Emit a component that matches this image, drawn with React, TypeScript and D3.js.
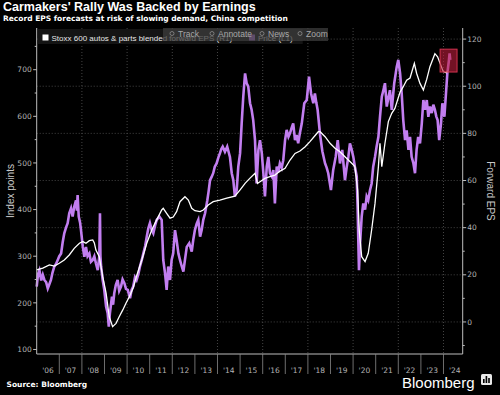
import React, { useEffect, useRef } from 'react';
import * as d3 from 'd3';

// Price (L1), index points, time in decimal years
const priceT = [
  2006.0, 2006.06, 2006.12, 2006.2, 2006.27, 2006.34, 2006.42, 2006.49, 2006.56, 2006.63, 2006.7, 2006.78, 2006.86, 2006.93,
  2007.0, 2007.08, 2007.15, 2007.22, 2007.3, 2007.37, 2007.44, 2007.52, 2007.59, 2007.66, 2007.74, 2007.78, 2007.81, 2007.86,
  2007.92, 2007.96, 2008.04, 2008.11, 2008.18, 2008.25, 2008.33, 2008.4, 2008.48, 2008.55, 2008.62, 2008.7, 2008.77, 2008.8,
  2008.82, 2008.85, 2008.92, 2008.99, 2009.07, 2009.14, 2009.19, 2009.24, 2009.33, 2009.38, 2009.43, 2009.5, 2009.58, 2009.65,
  2009.73, 2009.8, 2009.88, 2009.95, 2010.03, 2010.13, 2010.2, 2010.27, 2010.35, 2010.42, 2010.5, 2010.57, 2010.65, 2010.72,
  2010.8, 2010.87, 2010.94, 2011.01, 2011.09, 2011.16, 2011.24, 2011.31, 2011.43, 2011.53, 2011.6, 2011.68, 2011.75, 2011.82,
  2011.9, 2011.97, 2012.04, 2012.12, 2012.19, 2012.27, 2012.34, 2012.42, 2012.49, 2012.56, 2012.64, 2012.75, 2012.86, 2012.93,
  2013.0, 2013.08, 2013.15, 2013.23, 2013.3, 2013.37, 2013.45, 2013.55, 2013.61, 2013.67, 2013.74, 2013.81, 2013.88, 2013.96,
  2014.04, 2014.11, 2014.17, 2014.23, 2014.33, 2014.43, 2014.55, 2014.63, 2014.7, 2014.77, 2014.85, 2014.92, 2015.0, 2015.07,
  2015.14, 2015.22, 2015.29, 2015.36, 2015.44, 2015.51, 2015.58, 2015.66, 2015.73, 2015.81, 2015.88, 2015.96, 2016.03, 2016.1,
  2016.18, 2016.25, 2016.32, 2016.4, 2016.47, 2016.54, 2016.62, 2016.69, 2016.76, 2016.84, 2016.91, 2016.99, 2017.06, 2017.14,
  2017.21, 2017.28, 2017.35, 2017.43, 2017.5, 2017.57, 2017.65, 2017.73, 2017.84, 2017.95, 2018.05, 2018.14, 2018.24, 2018.31,
  2018.37, 2018.43, 2018.54, 2018.64, 2018.76, 2018.83, 2018.9, 2019.02, 2019.12, 2019.23, 2019.32, 2019.42, 2019.52, 2019.64,
  2019.72, 2019.79, 2019.86, 2019.94, 2020.01, 2020.08, 2020.16, 2020.2, 2020.23, 2020.26, 2020.31, 2020.38, 2020.45, 2020.53,
  2020.6, 2020.67, 2020.75, 2020.82, 2020.89, 2020.97, 2021.04, 2021.12, 2021.19, 2021.27, 2021.34, 2021.41, 2021.49, 2021.56,
  2021.63, 2021.71, 2021.82, 2021.93, 2022.0, 2022.08, 2022.15, 2022.22, 2022.3, 2022.37, 2022.45, 2022.52, 2022.59, 2022.67,
  2022.74, 2022.81, 2022.88, 2022.96, 2023.04, 2023.11, 2023.18, 2023.26, 2023.33, 2023.4, 2023.48, 2023.55, 2023.62, 2023.68,
  2023.74, 2023.81, 2023.89, 2023.95, 2024.04, 2024.11, 2024.17, 2024.24, 2024.27, 2024.3,
];
const priceV = [
  235, 262, 270, 248, 260, 249, 244, 231, 240, 249, 265, 278, 284, 292,
  300, 306, 330, 349, 362, 371, 392, 403, 385, 406, 420, 398, 431, 385,
  372, 356, 320, 299, 320, 300, 306, 288, 292, 300, 285, 270, 299, 392,
  300, 278, 249, 228, 192, 178, 149, 178, 213, 196, 220, 238, 249, 226,
  235, 250, 242, 230, 228, 210, 228, 235, 255, 249, 262, 278, 292, 306,
  322, 342, 360, 371, 356, 349, 366, 378, 385, 378, 292, 263, 228, 278,
  249, 292, 306, 356, 335, 306, 292, 278, 267, 292, 320, 328, 310, 336,
  356, 370, 378, 342, 356, 378, 392, 420, 440, 463, 470, 478, 492, 499,
  512, 521, 530, 535, 524, 535, 513, 478, 463, 428, 442, 492, 521, 585,
  642, 692, 671, 664, 628, 614, 592, 549, 456, 528, 549, 521, 478, 428,
  492, 513, 478, 471, 485, 413, 492, 480, 499, 490, 506, 549, 571, 556,
  564, 575, 585, 549, 560, 542, 565, 585, 628, 635, 685, 649, 628, 649,
  630, 614, 560, 525, 499, 490, 478, 442, 485, 513, 549, 499, 528, 463,
  492, 513, 542, 528, 513, 492, 471, 406, 335, 270, 328, 385, 413, 400,
  428, 420, 442, 456, 492, 513, 535, 556, 599, 642, 656, 671, 621, 640,
  656, 614, 671, 706, 721, 692, 649, 592, 549, 570, 528, 556, 513, 499,
  478, 528, 556, 542, 585, 635, 614, 635, 599, 621, 607, 625, 614, 600,
  592, 549, 585, 628, 599, 649, 692, 720, 735, 721,
];

// Stoxx 600 autos & parts blended forward EPS (R1)
const epsT = [
  2006.0, 2006.27, 2006.56, 2006.78, 2007.0, 2007.22, 2007.44, 2007.66, 2007.89, 2008.04, 2008.18, 2008.33, 2008.48, 2008.55,
  2008.62, 2008.77, 2008.92, 2009.07, 2009.21, 2009.36, 2009.51, 2009.65, 2009.81, 2009.95, 2010.1, 2010.27, 2010.42, 2010.65,
  2010.87, 2011.09, 2011.31, 2011.53, 2011.6, 2011.75, 2011.9, 2012.04, 2012.19, 2012.34, 2012.56, 2012.71, 2012.86, 2013.0,
  2013.23, 2013.37, 2013.59, 2013.81, 2014.11, 2014.41, 2014.77, 2015.0, 2015.22, 2015.44, 2015.66, 2015.77, 2015.88, 2016.1,
  2016.32, 2016.54, 2016.77, 2016.99, 2017.21, 2017.43, 2017.65, 2017.88, 2018.09, 2018.31, 2018.46, 2018.54, 2018.76, 2018.98,
  2019.2, 2019.42, 2019.64, 2019.79, 2019.94, 2020.08, 2020.2, 2020.27, 2020.38, 2020.53, 2020.67, 2020.82, 2020.97, 2021.12,
  2021.19, 2021.27, 2021.41, 2021.56, 2021.71, 2021.85, 2022.08, 2022.22, 2022.37, 2022.52, 2022.71, 2022.81, 2022.96, 2023.11,
  2023.26, 2023.4, 2023.62, 2023.74, 2023.85, 2023.99, 2024.12, 2024.19,
];
const epsV = [
  22.1, 22.8, 24.2, 23.7, 24.9, 26.3, 28.4, 31.2, 33.4, 34.1, 33.4, 34.5, 34.8, 33.5,
  30.5, 27.7, 19.2, 12.2, 2.2, -2.0, -0.6, 2.2, 5.1, 7.9, 10.7, 14.5, 19.5, 26.3,
  33.4, 39.0, 43.3, 47.5, 48.2, 46.1, 44.0, 44.5, 46.8, 51.0, 53.1, 51.7, 48.2, 47.2,
  46.8, 47.5, 49.6, 51.0, 51.7, 52.5, 53.4, 56.0, 58.8, 61.0, 63.1, 58.8, 59.5, 60.9,
  61.6, 62.3, 64.0, 65.2, 68.7, 71.5, 72.5, 74.3, 76.5, 79.0, 80.7, 80.7, 78.6, 75.8,
  73.7, 72.2, 70.1, 68.7, 67.3, 65.9, 56.0, 39.0, 27.7, 25.6, 29.1, 39.0, 50.3, 65.9,
  75.8, 65.9, 75.8, 85.0, 88.5, 90.6, 97.5, 99.8, 102.6, 103.5, 109.7, 105.5, 101.2, 98.4,
  103.0, 108.3, 113.8, 112.5, 109.7, 106.2, 105.7, 106.5,
];

const yearLabels = ["'06", "'07", "'08", "'09", "'10", "'11", "'12", "'13", "'14", "'15", "'16", "'17", "'18", "'19", "'20", "'21", "'22", "'23", "'24"];
const leftTicks = [100, 200, 300, 400, 500, 600, 700];
const leftMinor = [150, 250, 350, 450, 550, 650, 750];
const rightTicks = [0, 20, 40, 60, 80, 100, 120];
const rightMinor = [-10, 10, 30, 50, 70, 90, 110];
const toolbarItems = ['Track', 'Annotate', 'News', 'Zoom'];
// highlighted box at the end of the series (time, price)
const highlightT = [2023.85, 2024.6];
const highlightP = [695, 744];

const App = () => {
  const svgRef = useRef(null);

  useEffect(() => {
    const svg = d3.select(svgRef.current);
    svg.selectAll('*').remove();

    const width = 500;
    const height = 395;
    const margin = { top: 28, right: 37.3, bottom: 41, left: 36.7 };
    const x0 = margin.left;
    const x1 = width - margin.right;
    const yTop = margin.top;
    const yBot = height - margin.bottom;

    svg.append('rect').attr('width', width).attr('height', height).attr('fill', '#000');

    const x = d3.scaleLinear().domain([2006, 2024.85]).range([x0, x1]);
    const yL = d3.scaleLinear().domain([90.3, 789.4]).range([yBot, yTop]);
    const yR = d3.scaleLinear().domain([-13.6, 124.7]).range([yBot, yTop]);

    const tickFont = 'DejaVu Sans, sans-serif';

    // Gridlines
    svg.append('g').selectAll('line')
      .data(rightTicks)
      .enter()
      .append('line')
      .attr('x1', x0).attr('x2', x1)
      .attr('y1', d => yR(d)).attr('y2', d => yR(d))
      .attr('stroke', '#555').attr('stroke-width', 0.8).attr('stroke-dasharray', '1,2');

    const gridYears = d3.range(2008, 2025, 2);
    svg.append('g').selectAll('line')
      .data(gridYears)
      .enter()
      .append('line')
      .attr('x1', d => x(d)).attr('x2', d => x(d))
      .attr('y1', yTop).attr('y2', yBot)
      .attr('stroke', '#555').attr('stroke-width', 0.8).attr('stroke-dasharray', '1,2');

    // Price line
    const price = priceT.map((t, i) => ({ t, v: priceV[i] }));
    const eps = epsT.map((t, i) => ({ t, v: epsV[i] }));

    svg.append('path')
      .datum(price)
      .attr('fill', 'none')
      .attr('stroke', '#c27ef0')
      .attr('stroke-width', 2.6)
      .attr('stroke-linejoin', 'miter')
      .attr('d', d3.line().x(d => x(d.t)).y(d => yL(d.v)));

    svg.append('path')
      .datum(eps)
      .attr('fill', 'none')
      .attr('stroke', '#ffffff')
      .attr('stroke-width', 1.3)
      .attr('d', d3.line().x(d => x(d.t)).y(d => yR(d.v)));

    // Highlight box
    svg.append('rect')
      .attr('x', x(highlightT[0]))
      .attr('y', yL(highlightP[1]))
      .attr('width', x(highlightT[1]) - x(highlightT[0]))
      .attr('height', yL(highlightP[0]) - yL(highlightP[1]))
      .attr('fill', 'rgba(190,30,60,0.6)')
      .attr('stroke', '#d2324f')
      .attr('stroke-width', 1);

    // Axes lines
    const axisColor = '#bdbdbd';
    svg.append('line').attr('x1', x0).attr('x2', x0).attr('y1', yTop).attr('y2', yBot).attr('stroke', axisColor);
    svg.append('line').attr('x1', x1).attr('x2', x1).attr('y1', yTop).attr('y2', yBot).attr('stroke', axisColor);
    svg.append('line').attr('x1', x0).attr('x2', x1).attr('y1', yBot).attr('y2', yBot).attr('stroke', axisColor);

    // Left ticks
    const gl = svg.append('g');
    gl.selectAll('.maj').data(leftTicks).enter().append('line')
      .attr('x1', x0 - 3.5).attr('x2', x0).attr('y1', d => yL(d)).attr('y2', d => yL(d)).attr('stroke', axisColor);
    gl.selectAll('.min').data(leftMinor).enter().append('line')
      .attr('x1', x0 - 2).attr('x2', x0).attr('y1', d => yL(d)).attr('y2', d => yL(d)).attr('stroke', axisColor);
    gl.selectAll('text').data(leftTicks).enter().append('text')
      .attr('x', x0 - 5).attr('y', d => yL(d) + 2.7)
      .attr('text-anchor', 'end')
      .style('font-family', tickFont).style('font-size', '7.5px').style('fill', '#b4b4b4')
      .text(d => d);

    // Right ticks
    const gr = svg.append('g');
    gr.selectAll('.maj').data(rightTicks).enter().append('line')
      .attr('x1', x1).attr('x2', x1 + 3.5).attr('y1', d => yR(d)).attr('y2', d => yR(d)).attr('stroke', axisColor);
    gr.selectAll('.min').data(rightMinor).enter().append('line')
      .attr('x1', x1).attr('x2', x1 + 2).attr('y1', d => yR(d)).attr('y2', d => yR(d)).attr('stroke', axisColor);
    gr.selectAll('text').data(rightTicks).enter().append('text')
      .attr('x', x1 + 4.5).attr('y', d => yR(d) + 2.7)
      .style('font-family', tickFont).style('font-size', '7.5px').style('fill', '#b4b4b4')
      .text(d => d);

    // Bottom year separators and labels
    const years = d3.range(2007, 2025);
    svg.append('g').selectAll('line').data(years).enter().append('line')
      .attr('x1', d => x(d)).attr('x2', d => x(d))
      .attr('y1', yBot).attr('y2', yBot + 20)
      .attr('stroke', '#8a8a8a').attr('stroke-width', 0.8);
    svg.append('g').selectAll('text').data(yearLabels).enter().append('text')
      .attr('x', (d, i) => x(2006 + i + 0.5))
      .attr('y', yBot + 19)
      .attr('text-anchor', 'middle')
      .style('font-family', tickFont).style('font-size', '7.5px').style('fill', '#b4b4b4')
      .text(d => d);

    // Axis titles
    svg.append('text')
      .attr('transform', `translate(14,191) rotate(-90)`)
      .attr('text-anchor', 'middle')
      .style('font-family', 'Liberation Sans, Arial, sans-serif').style('font-size', '10px').style('fill', '#c8c8c8')
      .text('Index points');
    svg.append('text')
      .attr('transform', `translate(486.5,191) rotate(90)`)
      .attr('text-anchor', 'middle')
      .style('font-family', 'Liberation Sans, Arial, sans-serif').style('font-size', '10px').style('fill', '#c8c8c8')
      .text('Forward EPS');

    // Legend
    svg.append('rect').attr('x', x0 + 1).attr('y', yTop + 1).attr('width', 265).attr('height', 15).attr('fill', '#141414');
    svg.append('rect').attr('x', 42.5).attr('y', 34.5).attr('width', 6).attr('height', 6).attr('fill', '#fff');
    svg.append('text').attr('x', 51.5).attr('y', 40.5)
      .style('font-family', 'Liberation Sans, Arial, sans-serif').style('font-size', '8px').style('fill', '#e6e6e6')
      .text('Stoxx 600 autos & parts blended forward EPS (R1)');
    svg.append('rect').attr('x', 249).attr('y', 34.5).attr('width', 6).attr('height', 6).attr('fill', '#c27ef0');
    svg.append('text').attr('x', 258).attr('y', 40.5)
      .style('font-family', 'Liberation Sans, Arial, sans-serif').style('font-size', '8px').style('fill', '#e6e6e6')
      .text('Price (L1)');

    // Toolbar overlay
    svg.append('rect').attr('x', 163).attr('y', 28).attr('width', 165).attr('height', 13)
      .attr('fill', 'rgba(60,60,60,0.75)');
    const toolX = [178, 218, 268, 306];
    svg.append('g').selectAll('text').data(toolbarItems).enter().append('text')
      .attr('x', (d, i) => toolX[i]).attr('y', 36.5)
      .style('font-family', 'Liberation Sans, Arial, sans-serif').style('font-size', '8.5px').style('fill', '#a8a8a8')
      .text(d => d);
    svg.append('g').selectAll('circle').data(toolX).enter().append('circle')
      .attr('cx', d => d - 6).attr('cy', 33.5).attr('r', 2)
      .attr('fill', 'none').attr('stroke', '#8c8c8c').attr('stroke-width', 0.8);

    // Titles
    svg.append('text').attr('x', 3).attr('y', 11)
      .style('font-family', 'Liberation Sans, Arial, sans-serif').style('font-size', '12.5px').style('font-weight', 'bold').style('fill', '#fff')
      .text("Carmakers' Rally Was Backed by Earnings");
    svg.append('text').attr('x', 3).attr('y', 20.7)
      .style('font-family', 'DejaVu Sans, sans-serif').style('font-size', '7.5px').style('font-weight', 'bold').style('fill', '#fff')
      .text('Record EPS forecasts at risk of slowing demand, China competition');

    // Footer
    svg.append('text').attr('x', 6.5).attr('y', 386.5)
      .style('font-family', 'DejaVu Sans, sans-serif').style('font-size', '7.5px').style('font-weight', 'bold').style('fill', '#fff')
      .text('Source: Bloomberg');
    svg.append('text').attr('x', 402).attr('y', 387.5)
      .style('font-family', 'Liberation Sans, Arial, sans-serif').style('font-size', '15px').style('fill', '#fff')
      .text('Bloomberg');
    svg.append('rect').attr('x', 481).attr('y', 374).attr('width', 11).attr('height', 11).attr('rx', 1.5).attr('fill', '#e8e8e8');
    svg.append('g').selectAll('rect').data([4, 7, 5]).enter().append('rect')
      .attr('x', (d, i) => 483 + i * 2.6).attr('y', d => 383 - d).attr('width', 1.6).attr('height', d => d).attr('fill', '#000');
  }, []);

  return (
    <svg ref={svgRef} width={500} height={395} style={{ position: 'absolute', left: 0, top: 0 }}></svg>
  );
};

export default App;
